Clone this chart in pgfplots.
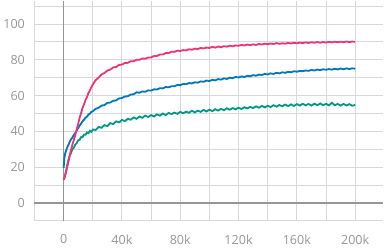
\documentclass[border=0pt]{standalone}
\usepackage{fontspec}
\setmainfont{Open Sans}
\usepackage{pgfplots}
\pgfplotsset{compat=1.18}
\definecolor{cpink}{HTML}{EE3377}
\definecolor{cblue}{HTML}{0077BB}
\definecolor{cgreen}{HTML}{009988}
\definecolor{gridc}{RGB}{216,216,216}
\definecolor{axc}{RGB}{150,150,150}
\definecolor{labc}{RGB}{150,150,150}
\begin{document}
\begin{tikzpicture}
\begin{axis}[
  scale only axis, width=347pt, height=219pt,
  xmin=-20000, xmax=219300, ymin=-10, ymax=113,
  axis line style={draw=none},
  tick style={draw=none},
  scaled ticks=false,
  xtick={0,40000,80000,120000,160000,200000},
  xticklabels={0,40k,80k,120k,160k,200k},
  minor xtick={-20000,20000,60000,100000,140000,180000},
  ytick={0,20,40,60,80,100},
  minor ytick={-10,10,30,50,70,90,110},
  grid=both,
  major grid style={gridc, line width=0.9pt},
  minor grid style={gridc, line width=0.9pt},
  extra x ticks={0}, extra y ticks={0},
  extra x tick labels={}, extra y tick labels={},
  extra tick style={major grid style={axc, line width=1.4pt}},
  ticklabel style={font=\fontsize{12.5}{14}\selectfont, text=labc},
  /pgf/number format/assume math mode=true,
  xticklabel style={yshift=-10pt},
  yticklabel style={xshift=-6pt},
  clip=false,
]
\addplot[cgreen, line width=1.8pt] coordinates {
(0,13.0)(500,13.8)(1000,15.5)(2000,19.3)(3000,23.2)(4000,26.0)(5000,27.8)(6000,30.0)(7000,30.9)(8000,32.6)(9000,33.4)(10000,35.0)(11000,35.3)(12000,36.8)(13000,36.9)(14000,38.2)(15000,38.1)(16000,39.4)(17000,39.0)(18000,40.3)(19000,39.7)(20000,41.0)(22000,40.8)(24000,42.5)(26000,42.0)(28000,43.5)(30000,42.9)(32000,44.6)(34000,44.0)(36000,45.6)(38000,45.0)(40000,46.4)(42000,45.7)(44000,47.0)(46000,46.5)(48000,47.8)(50000,47.0)(52000,48.3)(54000,47.6)(56000,48.8)(58000,48.0)(60000,49.1)(62000,48.3)(64000,49.5)(66000,48.8)(68000,50.0)(70000,49.1)(72000,50.3)(74000,49.6)(76000,50.5)(78000,49.8)(80000,50.9)(82000,50.1)(84000,51.0)(86000,50.4)(88000,51.5)(90000,50.6)(92000,51.6)(94000,50.9)(96000,52.0)(98000,51.1)(100000,52.1)(102000,51.3)(104000,52.4)(106000,51.6)(108000,52.6)(110000,51.8)(112000,52.9)(114000,52.1)(116000,53.0)(118000,52.3)(120000,53.2)(122000,52.5)(124000,53.5)(126000,52.8)(128000,53.7)(130000,53.0)(132000,54.0)(134000,53.2)(136000,54.2)(138000,53.4)(140000,54.3)(142000,53.6)(144000,54.6)(146000,53.8)(148000,54.7)(150000,54.0)(152000,55.0)(154000,54.1)(156000,55.1)(158000,54.2)(160000,55.2)(162000,54.4)(164000,55.4)(166000,54.5)(168000,55.3)(170000,54.4)(172000,55.5)(174000,54.6)(176000,55.6)(178000,54.6)(180000,55.4)(182000,54.5)(184000,56.0)(186000,54.6)(188000,55.3)(190000,54.4)(192000,55.3)(194000,54.5)(196000,55.2)(198000,54.3)(200000,54.8)
};
\addplot[cblue, line width=1.8pt] coordinates {
(0,19.5)(500,25.0)(1000,27.5)(2000,30.0)(3000,32.0)(4000,33.8)(5000,35.4)(6000,36.6)(7000,38.0)(8000,39.0)(9000,40.6)(10000,41.8)(11000,43.3)(12000,44.4)(13000,45.7)(14000,46.5)(15000,47.7)(16000,48.2)(17000,49.4)(18000,49.8)(19000,50.9)(20000,51.2)(22000,52.6)(24000,53.2)(26000,54.4)(28000,54.7)(30000,55.9)(32000,56.1)(34000,57.1)(36000,57.3)(38000,58.4)(40000,58.6)(42000,59.5)(44000,59.6)(46000,60.6)(48000,60.7)(50000,61.8)(52000,61.6)(54000,62.3)(56000,62.1)(58000,62.9)(60000,62.8)(62000,63.5)(64000,63.4)(66000,64.1)(68000,64.0)(70000,64.8)(72000,64.6)(74000,65.2)(76000,65.2)(78000,65.9)(80000,65.8)(82000,66.5)(84000,66.3)(86000,67.0)(88000,66.8)(90000,67.4)(92000,67.2)(94000,67.9)(96000,67.7)(98000,68.4)(100000,68.1)(102000,68.8)(104000,68.5)(106000,69.2)(108000,68.9)(110000,69.6)(112000,69.3)(114000,70.0)(116000,69.7)(118000,70.4)(120000,70.1)(122000,70.7)(124000,70.4)(126000,71.0)(128000,70.8)(130000,71.4)(132000,71.1)(134000,71.7)(136000,71.5)(138000,72.1)(140000,71.8)(142000,72.4)(144000,72.1)(146000,72.7)(148000,72.4)(150000,73.0)(152000,72.7)(154000,73.3)(156000,73.0)(158000,73.6)(160000,73.3)(162000,73.8)(164000,73.6)(166000,74.0)(168000,73.8)(170000,74.3)(172000,74.0)(174000,74.5)(176000,74.2)(178000,74.7)(180000,74.4)(182000,74.8)(184000,74.5)(186000,75.0)(188000,74.6)(190000,75.1)(192000,74.7)(194000,75.2)(196000,74.8)(198000,75.2)(200000,75.0)
};
\addplot[cpink, line width=1.8pt] coordinates {
(0,13.0)(1000,15.0)(2000,18.5)(3000,22.0)(4000,26.0)(5000,29.5)(6000,32.5)(7000,35.3)(8000,38.0)(9000,41.2)(10000,44.3)(11000,47.7)(12000,50.3)(13000,53.2)(14000,55.1)(15000,57.5)(16000,59.1)(17000,61.4)(18000,62.8)(19000,64.7)(20000,66.1)(22000,68.7)(24000,70.0)(26000,71.8)(28000,72.6)(30000,74.0)(32000,74.5)(34000,75.7)(36000,76.0)(38000,77.1)(40000,77.3)(42000,78.2)(44000,78.3)(46000,79.2)(48000,79.2)(50000,80.0)(52000,80.0)(54000,80.7)(56000,80.6)(58000,81.3)(60000,81.3)(62000,82.1)(64000,82.1)(66000,82.9)(68000,82.9)(70000,83.7)(72000,83.7)(74000,84.5)(76000,84.4)(78000,85.1)(80000,84.9)(82000,85.4)(84000,85.2)(86000,85.9)(88000,85.6)(90000,86.2)(92000,86.0)(94000,86.6)(96000,86.3)(98000,86.8)(100000,86.6)(102000,87.2)(104000,86.8)(106000,87.4)(108000,87.0)(110000,87.6)(112000,87.3)(114000,87.9)(116000,87.5)(118000,88.0)(120000,87.8)(122000,88.3)(124000,88.0)(126000,88.5)(128000,88.2)(130000,88.6)(132000,88.3)(134000,88.8)(136000,88.5)(138000,89.0)(140000,88.7)(142000,89.1)(144000,88.8)(146000,89.3)(148000,88.9)(150000,89.2)(152000,89.0)(154000,89.4)(156000,89.1)(158000,89.5)(160000,89.2)(162000,89.6)(164000,89.3)(166000,89.7)(168000,89.4)(170000,89.8)(172000,89.5)(174000,89.9)(176000,89.5)(178000,89.9)(180000,89.6)(182000,90.0)(184000,89.7)(186000,90.1)(188000,89.8)(190000,90.1)(192000,89.8)(194000,90.2)(196000,89.9)(198000,90.2)(200000,90.0)
};
\end{axis}
\end{tikzpicture}
\end{document}
